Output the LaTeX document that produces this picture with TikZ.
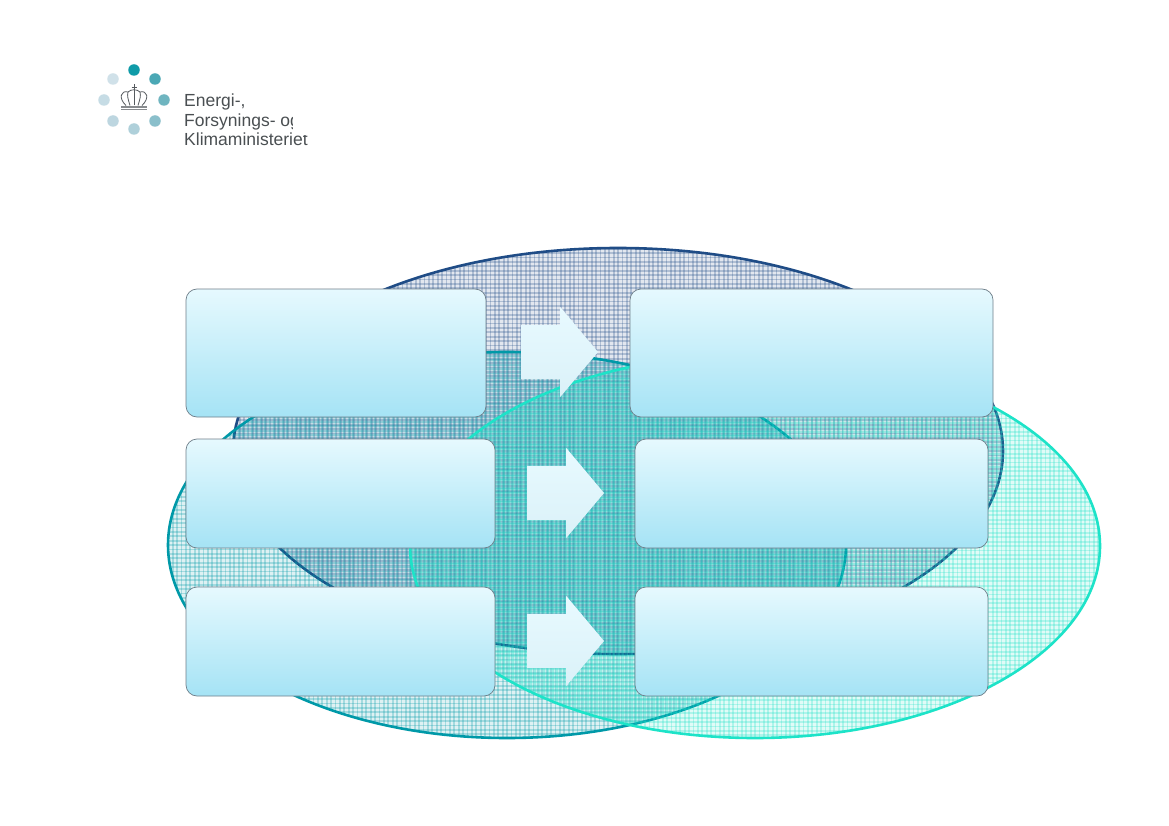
\documentclass[tikz,border=0pt]{standalone}
\usepackage{fontspec}
\setmainfont{Liberation Sans}
\usetikzlibrary{shapes.arrows}

\definecolor{navyline}{HTML}{1F4C86}
\definecolor{tealline}{HTML}{0099A8}
\definecolor{turqline}{HTML}{1DE3C8}
\definecolor{paneltop}{HTML}{E6F9FE}
\definecolor{panelbot}{HTML}{A5E3F5}
\definecolor{panelrim}{HTML}{6F7F8A}
\definecolor{arrowtop}{HTML}{E8FAFF}
\definecolor{arrowbot}{HTML}{DAF1F8}
\definecolor{logotext}{HTML}{4A4F52}
\definecolor{crownline}{HTML}{555A5E}
\definecolor{dota}{HTML}{0F9BA8}
\definecolor{dotb}{HTML}{4BA8B5}
\definecolor{dotc}{HTML}{6FB5C0}
\definecolor{dotd}{HTML}{8ABFCB}
\definecolor{dote}{HTML}{AFD0DA}
\definecolor{dotf}{HTML}{BDD6E0}
\definecolor{dotg}{HTML}{C6DCE5}
\definecolor{doth}{HTML}{D0E1E9}

% plaid filled oval: x, y, x radius, y radius, colour
\newcommand{\plaidoval}[5]{
  \begin{scope}
    \clip (#1,#2) ellipse [x radius=#3, y radius=#4];
    \fill[#5, opacity=0.13] (#1,#2) ellipse [x radius=#3, y radius=#4];
    \foreach \i in {-90,...,90} {
      \draw[#5, opacity=0.26, line width=1.8pt] (#1+\i*4.4,#2-#4) -- (#1+\i*4.4,#2+#4);
    }
    \foreach \i in {-50,...,50} {
      \draw[#5, opacity=0.26, line width=1.8pt] (#1-#3,#2+\i*4.4) -- (#1+#3,#2+\i*4.4);
    }
  \end{scope}
  \draw[#5, line width=2.6pt] (#1,#2) ellipse [x radius=#3, y radius=#4];
}

\tikzset{
  panel/.style={draw=panelrim, line width=0.7pt, rounded corners=11pt, top color=paneltop, bottom color=panelbot, inner sep=0pt, outer sep=0pt},
  fatarrow/.style={single arrow, single arrow tip angle=100, single arrow head extend=18pt, minimum height=77pt, inner xsep=0pt, inner ysep=27pt, outer sep=0pt, anchor=tip, top color=arrowtop, bottom color=arrowbot},
  logodot/.style={circle, inner sep=0pt, minimum size=11.5pt},
  logoline/.style={anchor=base west, inner sep=0pt, text=logotext, font=\fontsize{17.5}{19}\selectfont}
}

\begin{document}
\begin{tikzpicture}[x=1pt, y=-1pt]
  \useasboundingbox (0,0) rectangle (1169,826);
  \fill[white] (0,0) rectangle (1169,826);

  % the three ovals
  \plaidoval{618}{451}{385}{203}{navyline}
  \plaidoval{507}{545}{339}{193}{tealline}
  \plaidoval{755}{546}{345}{192}{turqline}

  % panels
  \node[panel, minimum width=300pt, minimum height=128pt] (topleft) at (336,353) {};
  \node[panel, minimum width=363pt, minimum height=128pt] (topright) at (811.5,353) {};
  \node[panel, minimum width=309pt, minimum height=109pt] (midleft) at (340.5,493.5) {};
  \node[panel, minimum width=353pt, minimum height=109pt] (midright) at (811.5,493.5) {};
  \node[panel, minimum width=309pt, minimum height=109pt] (lowleft) at (340.5,641.5) {};
  \node[panel, minimum width=353pt, minimum height=109pt] (lowright) at (811.5,641.5) {};

  % arrows
  \node[fatarrow] (toparrow) at (598,352) {};
  \node[fatarrow] (midarrow) at (604,493) {};
  \node[fatarrow] (lowarrow) at (604,641) {};

  % logo
  \node[logodot, fill=dota] (nodea) at (134,70) {};
  \node[logodot, fill=dotb] (nodeb) at (155,79) {};
  \node[logodot, fill=dotc] (nodec) at (164,100) {};
  \node[logodot, fill=dotd] (noded) at (155,121) {};
  \node[logodot, fill=dote] (nodee) at (134,129) {};
  \node[logodot, fill=dotf] (nodef) at (113,121) {};
  \node[logodot, fill=dotg] (nodeg) at (104,100) {};
  \node[logodot, fill=doth] (nodeh) at (113,79) {};

  \draw[crownline, line width=0.8pt] (126,105.5) .. controls (118,98) and (121,90) .. (128,92) .. controls (131,89) and (137,89) .. (140,92) .. controls (147,90) and (150,98) .. (142,105.5);
  \draw[crownline, line width=0.8pt] (130,105.5) .. controls (128,99) and (127,96) .. (128,92);
  \draw[crownline, line width=0.8pt] (138,105.5) .. controls (140,99) and (141,96) .. (140,92);
  \draw[crownline, line width=0.8pt] (134,105.5) -- (134,84);
  \draw[crownline, line width=0.7pt] (131.5,87) -- (136.5,87);
  \fill[crownline!70] (121,106) rectangle (147,108);
  \fill[crownline!70] (121,109) rectangle (147,110.5);

  \node[logoline] (logoa) at (184,107) {Energi-,};
  \node[logoline] (logob) at (184,127) {Forsynings- og};
  \node[logoline] (logoc) at (184,146) {Klimaministeriet};
  \fill[white] (293,110) rectangle (325,135.5);
  \fill[white] (309,110) rectangle (325,150);
\end{tikzpicture}
\end{document}
